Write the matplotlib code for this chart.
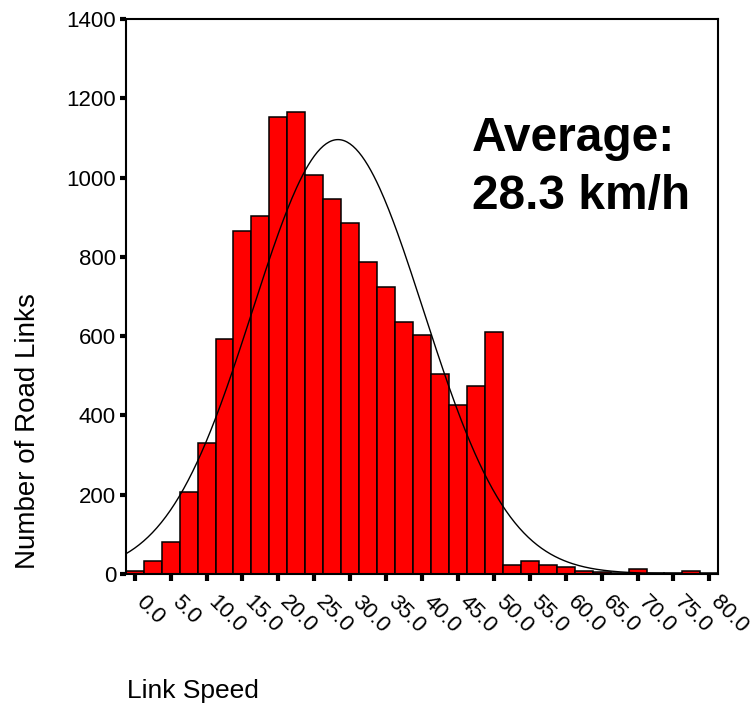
import numpy as np
import matplotlib.pyplot as plt
from matplotlib.transforms import ScaledTranslation

plt.rcParams['font.family'] = ['Liberation Sans', 'DejaVu Sans']

# bin centres (km/h) and counts of road links per 2.5 km/h bin
bin_centres = np.arange(0, 82.5, 2.5)
counts = [8, 33, 81, 207, 329, 592, 865, 904, 1152, 1166, 1006, 947, 885,
          787, 724, 636, 602, 505, 426, 475, 611, 21, 33, 21, 17, 8, 4, 2,
          12, 2, 2, 8, 2]
bin_width = 2.5

mean_speed = 28.3
std_speed = 11.9

tick_values = np.arange(0, 85, 5)
tick_labels = [f'{v:.1f}' for v in tick_values]
y_ticks = [0, 200, 400, 600, 800, 1000, 1200, 1400]

fig = plt.figure(figsize=(7.53, 7.04), dpi=100)
ax = fig.add_axes([0.167, 0.185, 0.787, 0.788])

ax.bar(bin_centres, counts, width=bin_width, color='#ff0000',
       edgecolor='black', linewidth=1.1, zorder=2)

# fitted normal curve
xs = np.linspace(-1.25, 81.25, 400)
n_total = sum(counts)
pdf = np.exp(-0.5 * ((xs - mean_speed) / std_speed) ** 2) / (std_speed * np.sqrt(2 * np.pi))
ax.plot(xs, pdf * n_total * bin_width, color='black', linewidth=1.0, zorder=3)

ax.set_xlim(-1.25, 81.25)
ax.set_ylim(0, 1400)

for s in ax.spines.values():
    s.set_linewidth(1.5)

ax.set_yticks(y_ticks)
ax.set_yticklabels([str(v) for v in y_ticks], fontsize=16)
ax.tick_params(axis='y', direction='out', length=4, width=3, pad=3)

ax.set_xticks(tick_values)
ax.set_xticklabels(tick_labels, fontsize=16, rotation=-45,
                   ha='left', va='top', rotation_mode='anchor')
ax.tick_params(axis='x', direction='out', length=5, width=3, pad=8)
shift = ScaledTranslation(12 / 100, 0, fig.dpi_scale_trans)
for lbl in ax.get_xticklabels():
    lbl.set_transform(lbl.get_transform() + shift)

ax.text(0.584, 0.762, 'Average:', transform=ax.transAxes,
        fontsize=34.5, fontweight='bold', va='baseline', ha='left')
ax.text(0.584, 0.657, '28.3 km/h', transform=ax.transAxes,
        fontsize=34.5, fontweight='bold', va='baseline', ha='left')

fig.text(0.037, 0.387, 'Number of Road Links', rotation=90, fontsize=20,
         ha='center', va='center')
fig.text(0.168, 0.009, 'Link Speed', fontsize=19, ha='left', va='baseline')

fig.savefig('out.png', dpi=100)
